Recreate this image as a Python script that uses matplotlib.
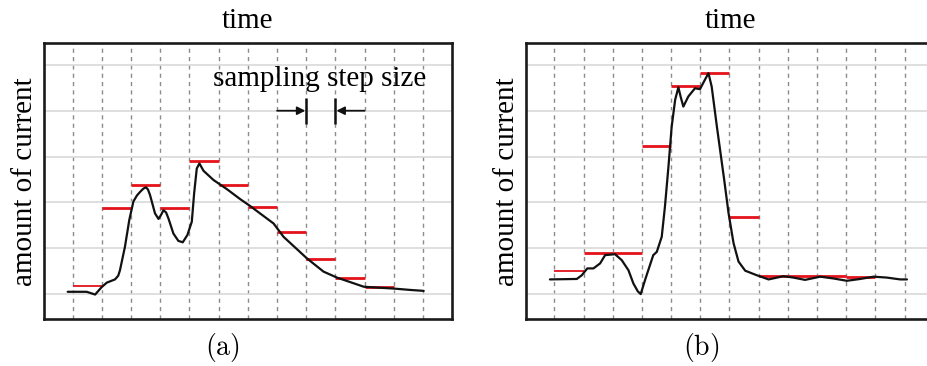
import numpy as np
import matplotlib.pyplot as plt

plt.rcParams['font.family'] = 'Liberation Serif'
plt.rcParams['mathtext.fontset'] = 'cm'

# (a) current trace and its sampled values
t_a = [0.83, 1.48, 1.77, 1.99, 2.17, 2.45, 2.56, 2.62, 2.79, 2.94, 3.08, 3.20,
       3.31, 3.42, 3.51, 3.58, 3.65, 3.82, 3.94, 4.02, 4.11, 4.20, 4.28, 4.45,
       4.62, 4.77, 4.93, 5.08, 5.16, 5.25, 5.34, 5.48, 5.82, 6.28, 6.74, 7.08,
       7.88, 8.22, 9.02, 9.59, 10.05, 10.97, 12.0, 12.57, 13.02]
cur_a = [1.05, 1.05, 0.99, 1.15, 1.25, 1.32, 1.40, 1.52, 2.03, 2.62, 3.02, 3.15,
         3.23, 3.30, 3.33, 3.28, 3.16, 2.76, 2.64, 2.72, 2.83, 2.78, 2.65, 2.32,
         2.16, 2.13, 2.29, 2.58, 3.20, 3.74, 3.85, 3.69, 3.49, 3.29, 3.07, 2.92,
         2.54, 2.25, 1.78, 1.49, 1.36, 1.16, 1.12, 1.09, 1.07]
sample_a = [1.17, 2.87, 3.37, 2.87, 3.90, 3.37, 2.91, 2.35, 1.76, 1.36, 1.16]

# (b) current trace and its sampled values
t_b = [0.85, 1.77, 1.94, 2.13, 2.34, 2.57, 2.74, 3.08, 3.31, 3.54, 3.71, 3.86,
       3.96, 4.11, 4.26, 4.39, 4.51, 4.68, 4.79, 4.91, 5.02, 5.14, 5.25, 5.33,
       5.42, 5.59, 5.82, 5.99, 6.13, 6.28, 6.39, 6.57, 6.68, 6.82, 6.97, 7.14,
       7.31, 7.54, 7.94, 8.34, 8.85, 9.19, 9.59, 10.11, 10.57, 11.02, 11.48,
       11.94, 12.39, 12.85, 13.08]
cur_b = [1.32, 1.33, 1.41, 1.56, 1.56, 1.67, 1.85, 1.87, 1.74, 1.52, 1.23, 1.06,
         1.00, 1.31, 1.60, 1.85, 1.92, 2.25, 2.91, 3.78, 4.65, 5.24, 5.51, 5.30,
         5.09, 5.31, 5.49, 5.47, 5.64, 5.82, 5.53, 4.65, 4.14, 3.49, 2.76, 2.11,
         1.71, 1.51, 1.41, 1.32, 1.39, 1.36, 1.31, 1.38, 1.34, 1.29, 1.33,
         1.38, 1.36, 1.32, 1.32]
sample_b = [1.51, 1.90, 1.90, 4.23, 5.54, 5.82, 2.69, 1.40, 1.40, 1.40, 1.38]

steps = np.arange(1, 14)
red = '#e3121b'

fig = plt.figure(figsize=(9.27, 3.66), dpi=100)
ax_a = fig.add_axes([0.0475, 0.1276, 0.4398, 0.754])
# right panel runs past the figure edge, so its right border is cut off
ax_b = fig.add_axes([0.5671, 0.1276, 0.4415, 0.754])


def style(ax, xmax):
    ax.set_xlim(0.02, xmax)
    ax.set_ylim(0.45, 6.47)
    ax.set_xticks(steps)
    ax.set_yticks(np.arange(1, 7))
    ax.tick_params(length=0, labelbottom=False, labelleft=False)
    ax.grid(axis='y', color='#d9d9d9', lw=1.2, ls='-')
    ax.grid(axis='x', color='#8c8c8c', lw=1.0, ls=(0, (3, 3)))
    ax.set_axisbelow(True)
    for s in ax.spines.values():
        s.set_linewidth(1.9)
        s.set_color('#1a1a1a')
    ax.set_title('time', fontsize=21, pad=11)
    ax.set_ylabel('amount of current', fontsize=21, labelpad=4)


def draw(ax, t, cur, sample, xmax):
    style(ax, xmax)
    starts = steps[:len(sample)]
    ax.hlines(sample[0], starts[0], starts[0] + 1, color=red, lw=1.3, zorder=3)
    ax.hlines(sample[1:], starts[1:], starts[1:] + 1, color=red, lw=2.0, zorder=3)
    ax.plot(t, cur, color='#111111', lw=1.6, solid_joinstyle='round',
            solid_capstyle='round', zorder=4)


draw(ax_a, t_a, cur_a, sample_a, 13.98)
draw(ax_b, t_b, cur_b, sample_b, 14.04)
ax_b.spines['right'].set_visible(False)

# step-size marker between two sampling instants
ax_a.text(9.46, 5.53, 'sampling step size', fontsize=21, ha='center', va='baseline')
ax_a.vlines([9, 10], 4.71, 5.28, color='#111111', lw=1.8)
ax_a.annotate('', xy=(8.97, 5.0), xytext=(8.0, 5.0),
              arrowprops=dict(arrowstyle='-|>', color='#111111', lw=1.3,
                              mutation_scale=12, shrinkA=0, shrinkB=0))
ax_a.annotate('', xy=(10.03, 5.0), xytext=(11.0, 5.0),
              arrowprops=dict(arrowstyle='-|>', color='#111111', lw=1.3,
                              mutation_scale=12, shrinkA=0, shrinkB=0))

fig.text(222.5 / 927, 1 - 348 / 366, r'$\mathrm{(a)}$', fontsize=20,
         ha='center', va='center')
fig.text(701 / 927, 1 - 348 / 366, r'$\mathrm{(b)}$', fontsize=20,
         ha='center', va='center')

fig.savefig('out.png', dpi=100)
